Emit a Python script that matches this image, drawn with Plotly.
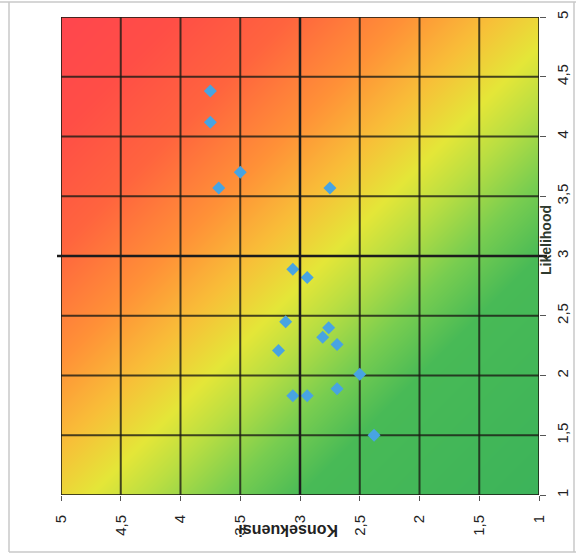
import plotly.graph_objects as go

# Averaged scores per risk item
konsekuensi = [3.75, 3.75, 3.68, 3.50, 2.75, 3.06, 2.94, 3.12, 2.76, 2.81,
               2.69, 3.18, 2.50, 2.69, 3.06, 2.94, 2.38]
likelihood = [4.38, 4.12, 3.57, 3.70, 3.57, 2.89, 2.82, 2.45, 2.40, 2.32,
              2.26, 2.21, 2.01, 1.89, 1.83, 1.83, 1.50]

tick_values = [1, 1.5, 2, 2.5, 3, 3.5, 4, 4.5, 5]
tick_labels = ["1", "1,5", "2", "2,5", "3", "3,5", "4", "4,5", "5"]

# Risk level at the corners of the matrix; the shading is interpolated between them
corner_axis = [1, 5]
corner_scores = [[2, 6], [6, 10]]
midpoint = 3

W, H = 576, 557
ML, MR, MT, MB = 61, 37, 17, 62
PW, PH = W - ML - MR, H - MT - MB


def px_x(p):
    return (p - ML) / PW


def px_y(p):
    return (H - MB - p) / PH


risk_scale = [
    [0.0, "rgb(60,179,90)"],
    [0.25, "rgb(72,186,86)"],
    [0.33, "rgb(120,205,80)"],
    [0.41, "rgb(185,222,66)"],
    [0.47, "rgb(228,230,56)"],
    [0.55, "rgb(248,190,56)"],
    [0.64, "rgb(255,145,55)"],
    [0.76, "rgb(255,100,62)"],
    [0.88, "rgb(255,78,70)"],
    [1.0, "rgb(255,70,78)"],
]

fig = go.Figure()

fig.add_trace(go.Heatmap(
    x=corner_axis, y=corner_axis, z=corner_scores,
    zsmooth="best", colorscale=risk_scale, showscale=False,
    hoverinfo="skip",
))

# Grid drawn as a trace so it sits on the shading but under the markers
lo, hi = tick_values[0], tick_values[-1]
gx, gy = [], []
for v in tick_values:
    gx += [v, v, None]
    gy += [lo, hi, None]
    gx += [lo, hi, None]
    gy += [v, v, None]
fig.add_trace(go.Scatter(
    x=gx, y=gy, mode="lines",
    line=dict(color="rgba(28,28,20,0.8)", width=2),
    hoverinfo="skip", showlegend=False,
))

fig.add_trace(go.Scatter(
    x=konsekuensi, y=likelihood, mode="markers",
    marker=dict(symbol="diamond", size=10, color="#48a4e2",
                line=dict(width=0)),
    showlegend=False,
))

shapes = [
    # axes crossing in the middle of the matrix
    dict(type="line", xref="x", yref="paper", x0=midpoint, x1=midpoint,
         y0=0, y1=1, line=dict(color="#1c1c1c", width=2.5), layer="above"),
    dict(type="line", xref="paper", yref="y", x0=px_x(57), x1=px_x(547),
         y0=midpoint, y1=midpoint, line=dict(color="#1c1c1c", width=2.5),
         layer="above"),
]
# light outer frame
frame = dict(color="#c8c8c8", width=1.5)
shapes += [
    dict(type="line", xref="paper", yref="paper", x0=px_x(0), x1=px_x(576),
         y0=px_y(2), y1=px_y(2), line=frame, layer="above"),
    dict(type="line", xref="paper", yref="paper", x0=px_x(9), x1=px_x(9),
         y0=px_y(2), y1=px_y(552), line=frame, layer="above"),
    dict(type="line", xref="paper", yref="paper", x0=px_x(9), x1=px_x(576),
         y0=px_y(552), y1=px_y(552), line=frame, layer="above"),
    dict(type="line", xref="paper", yref="paper", x0=px_x(574), x1=px_x(574),
         y0=px_y(2), y1=px_y(552), line=frame, layer="above"),
]

font_family = "Liberation Sans, Arial, sans-serif"
tick_font = dict(family=font_family, size=15, color="#222222")

fig.update_layout(
    width=W, height=H, autosize=False,
    margin=dict(l=ML, r=MR, t=MT, b=MB, pad=0),
    paper_bgcolor="white", plot_bgcolor="white",
    shapes=shapes,
    xaxis=dict(
        range=[hi, lo], tickvals=tick_values, ticktext=tick_labels,
        tickangle=-90, ticks="outside", ticklen=5, tickwidth=1,
        tickcolor="#555555", showgrid=False, zeroline=False,
        showline=False, tickfont=tick_font, fixedrange=True,
        ticklabelstandoff=8, automargin=False,
    ),
    yaxis=dict(
        range=[lo, hi], tickvals=tick_values, ticktext=tick_labels,
        side="right", tickangle=-90, ticks="outside", ticklen=6,
        tickwidth=1, tickcolor="#555555", showgrid=False, zeroline=False,
        showline=False, tickfont=tick_font, fixedrange=True,
        ticklabelstandoff=4, automargin=False,
    ),
    annotations=[
        dict(text="<b>Konsekuensi</b>", textangle=180, showarrow=False,
             xref="paper", yref="paper", x=px_x(288), y=px_y(531),
             xanchor="center", yanchor="middle",
             font=dict(family=font_family, size=16, color="#222222")),
        dict(text="<b>Likelihood</b>", textangle=-90, showarrow=False,
             xref="paper", yref="paper", x=px_x(546), y=px_y(240),
             xanchor="center", yanchor="middle",
             font=dict(family=font_family, size=14, color="#2e3a2e")),
    ],
)

fig.write_html("out.html")
